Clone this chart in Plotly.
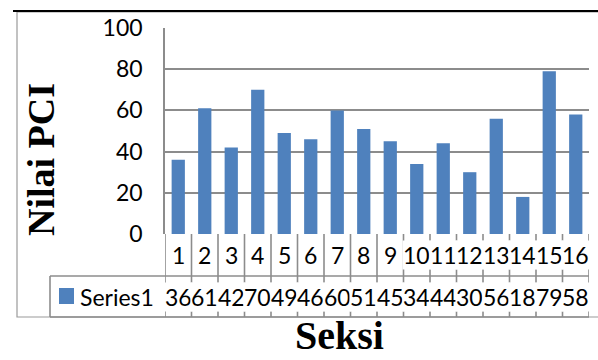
import plotly.graph_objects as go

# PCI score per section
sections = list(range(1, 17))
pci_values = [36, 61, 42, 70, 49, 46, 60, 51, 45, 34, 44, 30, 56, 18, 79, 58]
series_name = "Series1"
y_ticks = [0, 20, 40, 60, 80, 100]

BAR = "#4F81BD"
GRID = "#8c8c8c"
LABEL_FONT = dict(family="Lato", size=23, color="black")
TITLE_FONT = dict(family="Liberation Serif", size=38, color="black")

# Plot area: x 165..589 px, y 28..234 px in a 598x360 canvas
L, R, T, B = 165, 9, 28, 126
PW, PH = 598 - L - R, 360 - T - B


def px_x(px):
    return (px - L) / PW


def px_y(py):
    return (T + PH - py) / PH


fig = go.Figure()
fig.add_trace(go.Bar(x=sections, y=pci_values, name=series_name,
                     marker=dict(color=BAR, line=dict(width=0)), width=0.5))

shapes = []
annotations = []

# Outer chart frame and top rule
shapes.append(dict(type="rect", xref="paper", yref="paper",
                   x0=px_x(17), x1=px_x(610), y0=px_y(317), y1=px_y(12),
                   line=dict(color="#9a9a9a", width=1.2), layer="below"))
shapes.append(dict(type="line", xref="paper", yref="paper",
                   x0=px_x(13), x1=px_x(600), y0=px_y(11), y1=px_y(11),
                   line=dict(color="black", width=2)))

# Data table below the axis
row1_bot = px_y(276)
row2_bot = px_y(317)
row1_mid = row1_bot / 2
row2_mid = (row1_bot + row2_bot) / 2
tbl_line = dict(color=GRID, width=1.6)
for b in [0.5] + [s + 0.5 for s in sections]:
    shapes.append(dict(type="line", xref="x", yref="paper", x0=b, x1=b,
                       y0=0, y1=row2_bot, line=tbl_line))
shapes.append(dict(type="line", xref="paper", yref="paper",
                   x0=px_x(50), x1=1, y0=row1_bot, y1=row1_bot, line=tbl_line))
shapes.append(dict(type="line", xref="paper", yref="paper",
                   x0=px_x(50), x1=1, y0=row2_bot, y1=row2_bot, line=tbl_line))
shapes.append(dict(type="line", xref="paper", yref="paper",
                   x0=px_x(50), x1=px_x(50), y0=row1_bot, y1=row2_bot, line=tbl_line))

# Legend key in the table
shapes.append(dict(type="rect", xref="paper", yref="paper",
                   x0=px_x(59), x1=px_x(74), y0=px_y(304), y1=px_y(288),
                   fillcolor=BAR, line=dict(width=0)))
annotations.append(dict(text=series_name, xref="paper", yref="paper",
                        x=px_x(78), y=row2_mid,
                        xanchor="left", yanchor="middle", showarrow=False,
                        font=LABEL_FONT))

for s, v in zip(sections, pci_values):
    annotations.append(dict(text=str(s), xref="x", yref="paper", x=s,
                            y=row1_mid, xanchor="center", yanchor="middle",
                            showarrow=False, font=LABEL_FONT,
                            bgcolor="white", borderpad=0))
    annotations.append(dict(text=str(v), xref="x", yref="paper", x=s,
                            y=row2_mid, xanchor="center", yanchor="middle",
                            showarrow=False, font=LABEL_FONT,
                            bgcolor="white", borderpad=0))

# Axis titles
annotations.append(dict(text="<b>Nilai PCI</b>", xref="paper", yref="paper",
                        x=px_x(41), y=px_y(160), textangle=-90,
                        xanchor="center", yanchor="middle",
                        showarrow=False, font=TITLE_FONT))
annotations.append(dict(text="<b>Seksi</b>", xref="paper", yref="paper",
                        x=px_x(339), y=px_y(359.5),
                        xanchor="center", yanchor="bottom", borderpad=0,
                        showarrow=False, font=dict(TITLE_FONT, size=40)))

fig.update_layout(
    width=598, height=360,
    margin=dict(l=L, r=R, t=T, b=B),
    paper_bgcolor="white", plot_bgcolor="white",
    showlegend=False,
    shapes=shapes, annotations=annotations,
    xaxis=dict(range=[0.5, 16.5], showticklabels=False, showgrid=False,
               zeroline=False, showline=False, ticks=""),
    yaxis=dict(range=[0, 100], tickvals=y_ticks, showgrid=True,
               gridcolor=GRID, gridwidth=1.6, zeroline=False,
               showline=True, linecolor=GRID, linewidth=1.6,
               tickfont=LABEL_FONT, ticks="", ticklabelstandoff=16),
)

fig.write_html("out.html")
